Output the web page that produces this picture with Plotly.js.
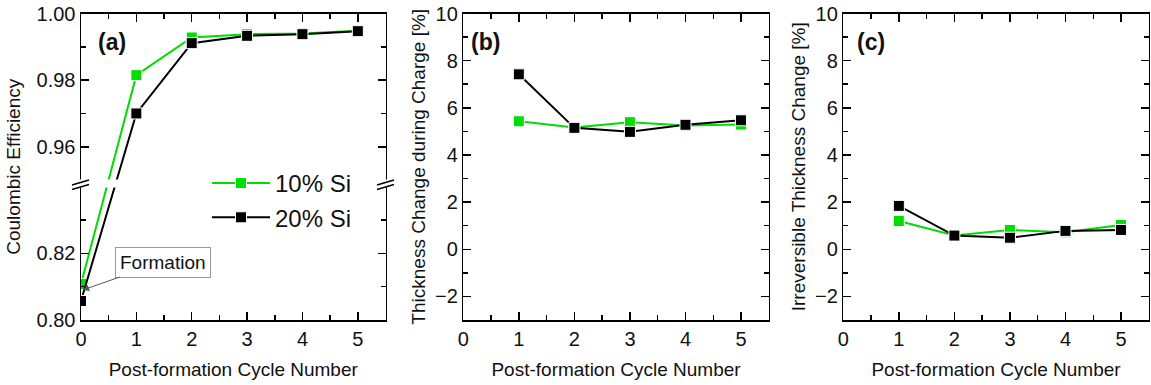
<!DOCTYPE html>
<html>
<head>
<meta charset="utf-8">
<script src="https://cdn.plot.ly/plotly-3.0.1.min.js"></script>
<style>html,body{margin:0;padding:0;background:#fff;}#chart{width:1151px;height:385px;}</style>
</head>
<body>
<div id="chart"></div>
<script>
// ---------- data ----------
const cycleA = [0, 1, 2, 3, 4, 5];
const ceSi10 = [0.8108, 0.9815, 0.9928, 0.9938, 0.9940, 0.9948];
const ceSi20 = [0.8057, 0.9700, 0.9911, 0.9933, 0.9938, 0.9947];

const cycleBC = [1, 2, 3, 4, 5];
const chargeSi10 = [5.43, 5.17, 5.39, 5.25, 5.29];
const chargeSi20 = [7.42, 5.15, 4.98, 5.28, 5.47];
const irrevSi10 = [1.20, 0.58, 0.82, 0.72, 1.03];
const irrevSi20 = [1.84, 0.58, 0.49, 0.78, 0.82];

const seriesNames = ['10% Si', '20% Si'];
const xTicks = [0, 1, 2, 3, 4, 5];
const ceMajorTicks = [0.80, 0.82, 0.96, 0.98, 1.00];
const ceMinorTicks = [0.81, 0.83, 0.97, 0.99];

// ---------- broken axis mapping for panel (a) ----------
const LOW0 = 0.80, LOW1 = 0.84, HIGH0 = 0.95, HIGH1 = 1.00, GAP = 0.002;
function T(v) { return v < 0.9 ? v - LOW0 : v - HIGH0 + (LOW1 - LOW0) + GAP; }
const TMAX = T(HIGH1);

// ---------- styling ----------
const W = 1151, H = 385;
const GREEN = '#00dd00', BLACK = '#000000';
const FONT = 'Liberation Sans, Arial, sans-serif';
const px2x = p => p / W;
const px2y = p => 1 - p / H;
const yDom = [px2y(320), px2y(13.5)];

function trace(x, y, name, color, xa, ya, showLegend) {
  return {
    type: 'scatter', mode: 'lines+markers', x: x, y: y, name: name,
    xaxis: xa, yaxis: ya, showlegend: showLegend,
    cliponaxis: true,
    line: {color: color, width: 2},
    marker: {symbol: 'square', size: 11, color: color, line: {color: '#ffffff', width: 1}}
  };
}

const data = [
  trace(cycleA, ceSi10.map(T), seriesNames[0], GREEN, 'x', 'y', true),
  trace(cycleA, ceSi20.map(T), seriesNames[1], BLACK, 'x', 'y', true),
  trace(cycleBC, chargeSi10, seriesNames[0], GREEN, 'x2', 'y2', false),
  trace(cycleBC, chargeSi20, seriesNames[1], BLACK, 'x2', 'y2', false),
  trace(cycleBC, irrevSi10, seriesNames[0], GREEN, 'x3', 'y3', false),
  trace(cycleBC, irrevSi20, seriesNames[1], BLACK, 'x3', 'y3', false)
];

const tickFont = {family: FONT, size: 20, color: '#111'};
const titleFont = {family: FONT, size: 19, color: '#111'};

function xAxis(domain, anchor) {
  return {
    domain: domain, anchor: anchor, range: [0, 5.5],
    tickmode: 'array', tickvals: xTicks, ticktext: xTicks.map(String),
    ticks: 'inside', ticklen: 8, tickwidth: 1.5, tickcolor: '#000',
    minor: {tickmode: 'linear', tick0: 0.5, dtick: 1, ticks: 'inside', ticklen: 5, tickwidth: 1.5, tickcolor: '#000'},
    showline: true, linecolor: '#000', linewidth: 1.5, mirror: 'allticks',
    showgrid: false, zeroline: false, tickfont: tickFont,
    title: {text: 'Post-formation Cycle Number', font: titleFont, standoff: 14}
  };
}
function yAxisPct(anchor, title) {
  return {
    domain: yDom, anchor: anchor, range: [-3, 10],
    tickmode: 'linear', tick0: 0, dtick: 2,
    ticks: 'inside', ticklen: 8, tickwidth: 1.5, tickcolor: '#000',
    minor: {tickmode: 'linear', tick0: 1, dtick: 2, ticks: 'inside', ticklen: 5, tickwidth: 1.5, tickcolor: '#000'},
    showline: true, linecolor: '#000', linewidth: 1.5, mirror: 'allticks',
    showgrid: false, zeroline: false, tickfont: tickFont,
    title: {text: title, font: titleFont, standoff: 4}
  };
}

const layout = {
  width: W, height: H,
  margin: {l: 0, r: 0, t: 0, b: 0},
  paper_bgcolor: '#fff', plot_bgcolor: '#fff',
  font: {family: FONT, color: '#111'},
  xaxis: xAxis([px2x(81), px2x(385.5)], 'y'),
  xaxis2: xAxis([px2x(463.3), px2x(768.8)], 'y2'),
  xaxis3: xAxis([px2x(843.3), px2x(1148.8)], 'y3'),
  yaxis: {
    domain: yDom, anchor: 'x', range: [0, TMAX],
    tickmode: 'array', tickvals: ceMajorTicks.map(T), ticktext: ceMajorTicks.map(v => v.toFixed(2)),
    ticks: 'inside', ticklen: 8, tickwidth: 1.5, tickcolor: '#000',
    minor: {tickmode: 'array', tickvals: ceMinorTicks.map(T), ticks: 'inside', ticklen: 5, tickwidth: 1.5, tickcolor: '#000'},
    showline: true, linecolor: '#000', linewidth: 1.5, mirror: 'allticks',
    showgrid: false, zeroline: false, tickfont: tickFont,
    title: {text: 'Coulombic Efficiency', font: titleFont, standoff: 11}
  },
  yaxis2: yAxisPct('x2', 'Thickness Change during Charge [%]'),
  yaxis3: yAxisPct('x3', 'Irreversible Thickness Change [%]'),
  showlegend: true,
  legend: {
    x: px2x(207), y: px2y(161), xanchor: 'left', yanchor: 'top',
    bgcolor: 'rgba(0,0,0,0)', borderwidth: 0,
    font: {family: FONT, size: 24, color: '#111'},
    itemwidth: 58, tracegroupgap: 0
  },
  shapes: [
    // white gap at the axis break
    {type: 'rect', xref: 'paper', yref: 'paper', x0: px2x(74), x1: px2x(125), y0: px2y(187.5), y1: px2y(179.5),
     fillcolor: '#fff', line: {width: 0}, layer: 'above'},
    {type: 'rect', xref: 'paper', yref: 'paper', x0: px2x(380), x1: px2x(391), y0: px2y(187.5), y1: px2y(179.5),
     fillcolor: '#fff', line: {width: 0}, layer: 'above'},
    // break marks
    {type: 'line', xref: 'paper', yref: 'paper', x0: px2x(72), y0: px2y(185), x1: px2x(89), y1: px2y(180), line: {color: '#000', width: 1.5}, layer: 'above'},
    {type: 'line', xref: 'paper', yref: 'paper', x0: px2x(72), y0: px2y(189.5), x1: px2x(89), y1: px2y(184.5), line: {color: '#000', width: 1.5}, layer: 'above'},
    {type: 'line', xref: 'paper', yref: 'paper', x0: px2x(377), y0: px2y(185), x1: px2x(394), y1: px2y(180), line: {color: '#000', width: 1.5}, layer: 'above'},
    {type: 'line', xref: 'paper', yref: 'paper', x0: px2x(377), y0: px2y(189.5), x1: px2x(394), y1: px2y(184.5), line: {color: '#000', width: 1.5}, layer: 'above'}
  ],
  annotations: [
    {xref: 'paper', yref: 'paper', x: px2x(96), y: px2y(42), xanchor: 'left', yanchor: 'middle', showarrow: false,
     text: '<b>(a)</b>', font: {family: FONT, size: 23, color: '#111'}},
    {xref: 'paper', yref: 'paper', x: px2x(469), y: px2y(42), xanchor: 'left', yanchor: 'middle', showarrow: false,
     text: '<b>(b)</b>', font: {family: FONT, size: 23, color: '#111'}},
    {xref: 'paper', yref: 'paper', x: px2x(855), y: px2y(42), xanchor: 'left', yanchor: 'middle', showarrow: false,
     text: '<b>(c)</b>', font: {family: FONT, size: 23, color: '#111'}},
    {xref: 'x', yref: 'y', x: 0.03, y: T(0.809), text: 'Formation',
     font: {family: FONT, size: 19, color: '#111'},
     showarrow: true, ax: 80, ay: -28, arrowhead: 2, arrowsize: 1.3, arrowwidth: 1, arrowcolor: '#555',
     bordercolor: '#999', borderwidth: 1, borderpad: 4, bgcolor: '#fff', standoff: 0}
  ]
};

Plotly.newPlot('chart', data, layout, {displayModeBar: false, staticPlot: true});
</script>
</body>
</html>
